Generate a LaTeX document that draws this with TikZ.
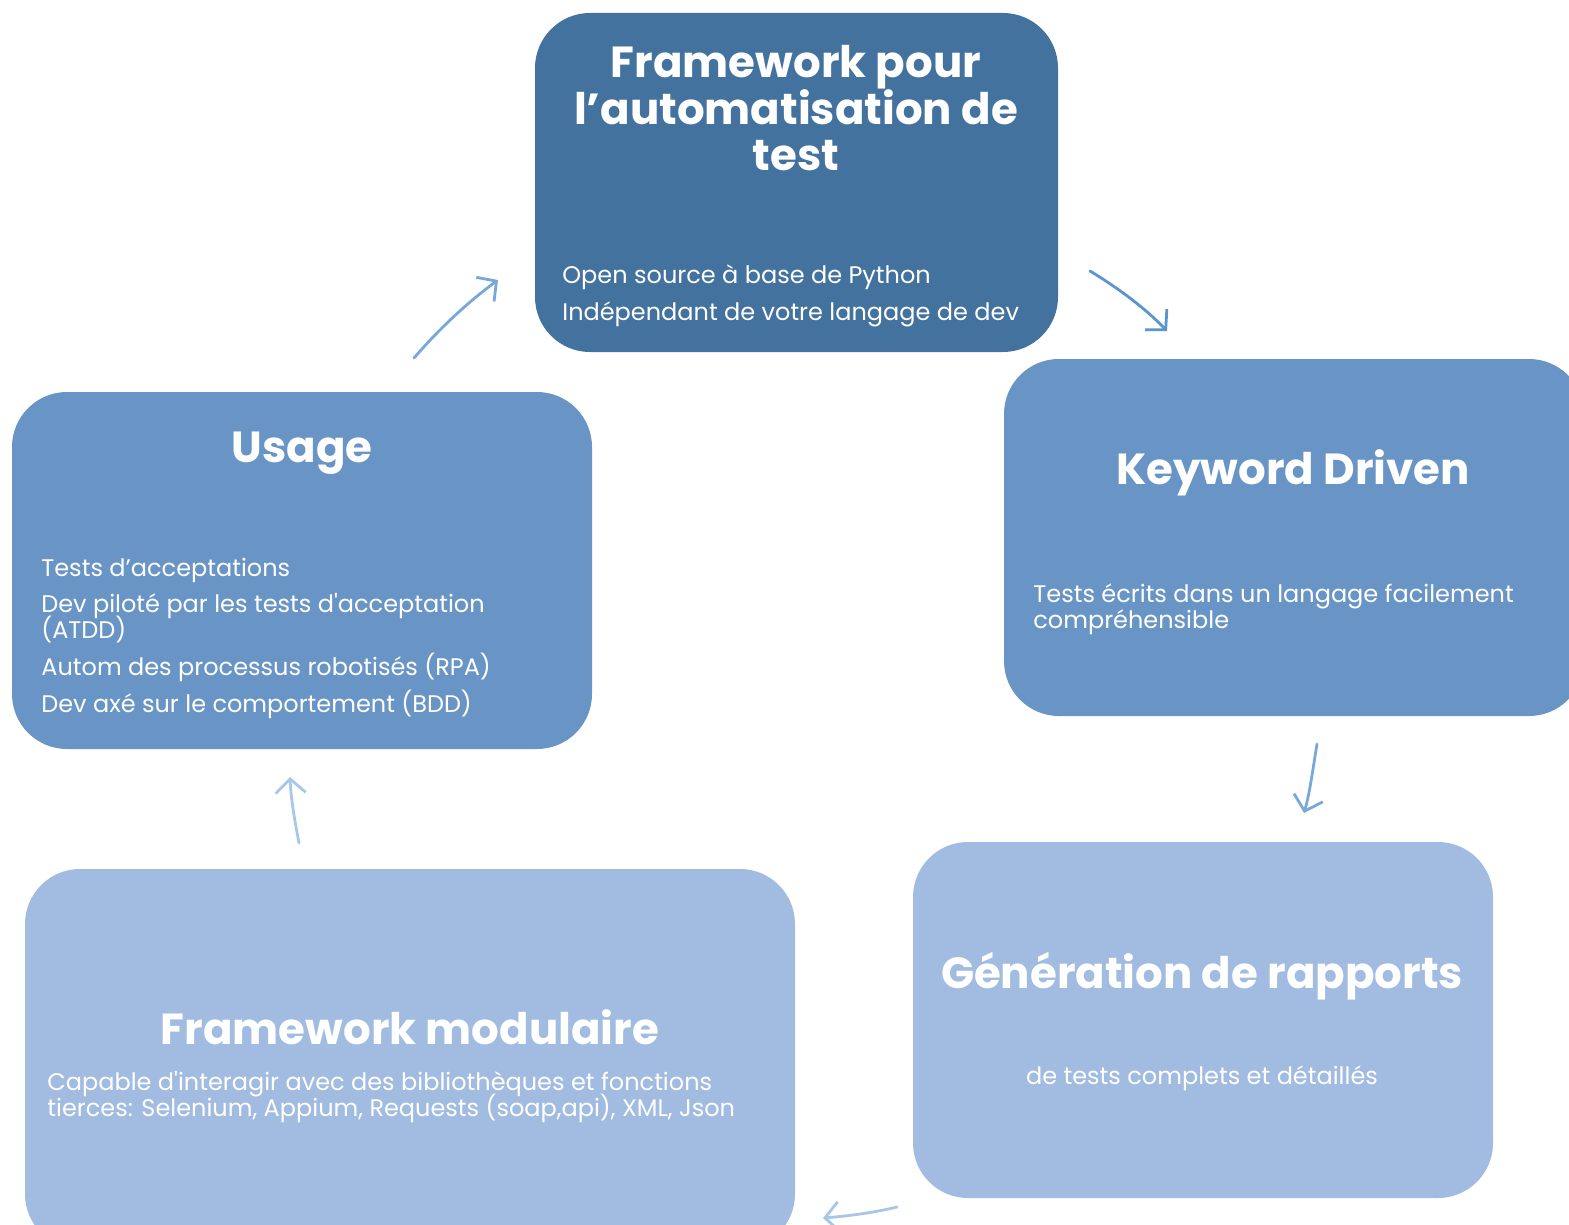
\documentclass[tikz,border=0pt]{standalone}
\usepackage{fontspec}
\setmainfont{Poppins}
\usetikzlibrary{arrows.meta}

\definecolor{darkblue}{HTML}{44729F}
\definecolor{midblue}{HTML}{6995C6}
\definecolor{lightblue}{HTML}{A1BCE0}

\newcommand\bodysize{\fontsize{24}{26}\selectfont\lineskiplimit-20pt\relax}

\tikzset{every picture/.style={line width=0.75pt}}
\tikzset{
  box/.style={rectangle, rounded corners=55pt, inner sep=0pt, draw=none},
  boxtitle/.style={text=white, align=center, font=\bfseries\fontsize{43.5}{46}\selectfont},
  boxbody/.style={text=white, align=left, anchor=west, font=\bodysize, inner sep=0pt},
  flow/.style={line width=2.8pt, line cap=round, -{Straight Barb[length=14pt,width=30pt,line width=2.8pt]}},
}

\begin{document}
\begin{tikzpicture}[x=1pt,y=1pt,yscale=-1,xscale=1]
\useasboundingbox (0,0) rectangle (1569,1225);
\clip (0,0) rectangle (1569,1225);

%Rounded Rect: framework pour l'automatisation
\node[box, fill=darkblue, minimum width=523pt, minimum height=339pt] (auto) at (796.5,182.5) {};
\node[boxtitle] (autotitle) at (796,108) {Framework pour\\l’automatisation de\\test};
\node[boxbody] (autobody) at (562,296) {Open source à base de Python\\[11pt]Indépendant de votre langage de dev};

%Rounded Rect: usage
\node[box, fill=midblue, minimum width=580pt, minimum height=357pt] (usage) at (302,570.5) {};
\node[boxtitle] (usagetitle) at (302,453) {Usage};
\node[boxbody] (usagebody) at (41,638) {Tests d’acceptations\\[10pt]Dev piloté par les tests d\textquotesingle acceptation\\(ATDD)\\[11pt]Autom des processus robotisés (RPA)\\[11pt]Dev axé sur le comportement (BDD)};

%Rounded Rect: keyword driven
\node[box, fill=midblue, minimum width=580pt, minimum height=357pt] (keyword) at (1294,537.5) {};
\node[boxtitle] (keywordtitle) at (1293,473) {Keyword Driven};
\node[boxbody] (keywordbody) at (1033,609) {Tests écrits dans un langage facilement\\compréhensible};

%Rounded Rect: generation de rapports
\node[box, fill=lightblue, minimum width=580pt, minimum height=356pt] (rapports) at (1203,1020) {};
\node[boxtitle] (rapportstitle) at (1202,976) {Génération de rapports};
\node[boxbody, anchor=center, align=center] (rapportsbody) at (1202,1078) {de tests complets et détaillés};

%Rounded Rect: framework modulaire
\node[box, fill=lightblue, minimum width=770pt, minimum height=380pt] (modulaire) at (410,1059) {};
\node[boxtitle] (modulairetitle) at (410,1027) {Framework modulaire};
\node[boxbody] (modulairebody) at (47,1097) {Capable d\textquotesingle interagir avec des bibliothèques et fonctions\\tierces: Selenium, Appium, Requests (soap,api), XML, Json};

%Arrow ends
\coordinate (a1s) at (414,358);
\coordinate (a1e) at (498,280);
\coordinate (a2s) at (1090,271);
\coordinate (a2e) at (1167,331);
\coordinate (a3s) at (1317,744);
\coordinate (a3e) at (1304,813);
\coordinate (a4s) at (299,843);
\coordinate (a4e) at (290,777);
\coordinate (a5s) at (897,1207);
\coordinate (a5e) at (823,1218);

%Curve Lines
\draw[flow, color={rgb,255:red,121;green,167;blue,218}] (a1s) .. controls (440,328) and (468,302) .. (a1e);
\draw[flow, color={rgb,255:red,91;green,148;blue,207}] (a2s) .. controls (1118,288) and (1145,308) .. (a2e);
\draw[flow, color={rgb,255:red,122;green,168;blue,218}] (a3s) .. controls (1313,768) and (1310,792) .. (a3e);
\draw[flow, color={rgb,255:red,168;green,200;blue,234}] (a4s) .. controls (295,822) and (291,800) .. (a4e);
\draw[flow, color={rgb,255:red,168;green,198;blue,232}] (a5s) .. controls (872,1213) and (848,1216) .. (a5e);

\end{tikzpicture}
\end{document}
